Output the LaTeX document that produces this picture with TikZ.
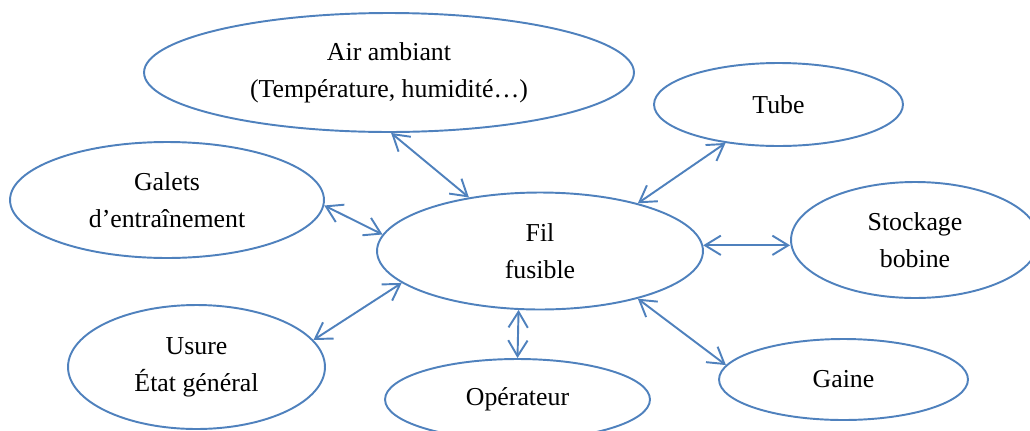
\documentclass[tikz,border=0pt]{standalone}
\usepackage{fontspec}
\setmainfont{Liberation Serif}
\usetikzlibrary{shapes.geometric,arrows.meta}
\definecolor{edgeblue}{RGB}{79,129,189}
\tikzset{
  bubble/.style={ellipse, draw=edgeblue, line width=1.1pt, inner sep=0pt, align=center,
    font=\fontsize{14.7}{21}\selectfont, text=black},
  link/.style={draw=edgeblue, line width=1.1pt,
    {Straight Barb[length=9pt,width=11pt]}-{Straight Barb[length=9pt,width=11pt]}}
}
\begin{document}
\begin{tikzpicture}[x=0.02cm,y=-0.02cm]
\clip (0,0) rectangle (1030,430);
\useasboundingbox (0,0) rectangle (1030,430);
\node[bubble, minimum width=9.8cm, minimum height=2.38cm] (air) at (389,72.5) {Air ambiant\\(Température, humidité…)};
\node[bubble, minimum width=4.98cm, minimum height=1.66cm] (tube) at (778.5,104.5) {Tube};
\node[bubble, minimum width=6.28cm, minimum height=2.32cm] (galets) at (167,200) {Galets\\d’entraînement};
\node[bubble, minimum width=6.52cm, minimum height=2.34cm] (fil) at (540,251) {Fil\\fusible};
\node[bubble, minimum width=4.96cm, minimum height=2.32cm] (stock) at (915,240) {Stockage\\bobine};
\node[bubble, minimum width=5.14cm, minimum height=2.48cm] (usure) at (196.5,367) {Usure\\État général};
\node[bubble, minimum width=5.3cm, minimum height=1.62cm] (oper) at (517.5,399.5) {Opérateur};
\node[bubble, minimum width=4.98cm, minimum height=1.62cm] (gaine) at (843.5,379.5) {Gaine};
\draw[link] (air.-88.2) -- (fil.143.1);
\draw[link] (galets.-2.9) -- (fil.174.9);
\draw[link] (tube.216.3) -- (fil.26.1);
\draw[link] (fil.2.5) -- (fil.2.5 -| stock.west);
\draw[link] (usure.13.9) -- (fil.193.6);
\draw[link] (fil.250) -- (oper.90);
\draw[link] (fil.-26.8) -- (gaine.173.4);
\end{tikzpicture}
\end{document}
